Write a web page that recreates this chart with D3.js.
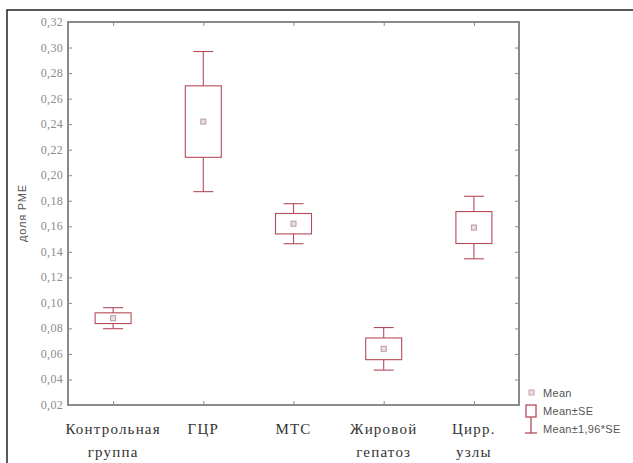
<!DOCTYPE html>
<html>
<head>
<meta charset="utf-8">
<script src="https://cdn.jsdelivr.net/npm/d3@7"></script>
<style>
  body { margin: 0; background: #fff; }
  svg { display: block; }
</style>
</head>
<body>
<svg width="633" height="463"></svg>
<script>
// groups and their values (mean, SE)
const groups = ["Контрольная|группа", "ГЦР", "МТС", "Жировой|гепатоз", "Цирр.|узлы"];
const means = [0.088, 0.242, 0.162, 0.064, 0.159];
const se = [0.0042, 0.028, 0.008, 0.0085, 0.0125];
const yTicks = [0.02, 0.04, 0.06, 0.08, 0.10, 0.12, 0.14, 0.16, 0.18, 0.20, 0.22, 0.24, 0.26, 0.28, 0.30, 0.32];
const legendLabels = ["Mean", "Mean±SE", "Mean±1,96*SE"];

const svg = d3.select("svg");
const red = "#b54a5a";
const axisCol = "#8a8a8a";

const m = { left: 68, top: 22, right: 519, bottom: 405 };

const x = d3.scalePoint().domain(groups).range([m.left, m.right]).padding(0.5);
const y = d3.scaleLinear().domain([0.02, 0.32]).range([m.bottom, m.top]);

// outer frame
svg.append("path")
  .attr("d", "M7,463 V10 H633")
  .attr("fill", "none")
  .attr("stroke", "#222")
  .attr("stroke-width", 1.5);

// plot frame
svg.append("rect")
  .attr("x", m.left).attr("y", m.top)
  .attr("width", m.right - m.left).attr("height", m.bottom - m.top)
  .attr("fill", "none").attr("stroke", axisCol).attr("stroke-width", 2);

const fmt = d => d3.format(".2f")(d).replace(".", ",");

// left axis with inward ticks
const yl = svg.append("g").attr("transform", `translate(${m.left},0)`)
  .call(d3.axisRight(y).tickValues(yTicks).tickSize(4).tickFormat(""));
yl.select(".domain").remove();
yl.selectAll("line").attr("stroke", axisCol);

svg.append("g").selectAll("text").data(yTicks).enter().append("text")
  .attr("x", m.left - 5).attr("y", d => y(d) + 4)
  .attr("text-anchor", "end")
  .attr("font-family", "Liberation Serif, serif")
  .attr("font-size", 12)
  .attr("letter-spacing", 0.3)
  .attr("fill", "#8c8c8c")
  .text(fmt);

// right axis ticks
const yr = svg.append("g").attr("transform", `translate(${m.right},0)`)
  .call(d3.axisLeft(y).tickValues(yTicks).tickSize(4).tickFormat(""));
yr.select(".domain").remove();
yr.selectAll("line").attr("stroke", axisCol);

// bottom and top ticks
const xb = svg.append("g").attr("transform", `translate(0,${m.bottom})`)
  .call(d3.axisTop(x).tickSize(4).tickFormat(""));
xb.select(".domain").remove();
xb.selectAll("line").attr("stroke", axisCol);
const xt = svg.append("g").attr("transform", `translate(0,${m.top})`)
  .call(d3.axisBottom(x).tickSize(4).tickFormat(""));
xt.select(".domain").remove();
xt.selectAll("line").attr("stroke", axisCol);

// category labels
groups.forEach(g => {
  const lines = g.split("|");
  const t = svg.append("text")
    .attr("x", x(g)).attr("y", 434)
    .attr("text-anchor", "middle")
    .attr("font-family", "Liberation Serif, serif")
    .attr("font-size", 15)
    .attr("letter-spacing", 1.2)
    .attr("fill", "#333");
  lines.forEach((l, i) => {
    t.append("tspan").attr("x", x(g)).attr("dy", i ? 23 : 0).text(l);
  });
});

// y axis title
svg.append("text")
  .attr("transform", "translate(26,213) rotate(-90)")
  .attr("text-anchor", "middle")
  .attr("font-family", "Liberation Sans, sans-serif")
  .attr("font-size", 11)
  .attr("letter-spacing", 0.8)
  .attr("fill", "#555")
  .text("доля РМЕ");

// boxes
const boxW = 36, capW = 20;
const items = svg.append("g").selectAll("g").data(groups).enter().append("g")
  .attr("transform", d => `translate(${x(d)},0)`);

items.append("line")
  .attr("y1", (d, i) => y(means[i] + 1.96 * se[i]))
  .attr("y2", (d, i) => y(means[i] - 1.96 * se[i]))
  .attr("stroke", red).attr("stroke-width", 1.1);

items.selectAll(".cap").data((d, i) => [means[i] + 1.96 * se[i], means[i] - 1.96 * se[i]])
  .enter().append("line").attr("class", "cap")
  .attr("x1", -capW / 2).attr("x2", capW / 2)
  .attr("y1", d => y(d)).attr("y2", d => y(d))
  .attr("stroke", red).attr("stroke-width", 1.1);

items.append("rect")
  .attr("x", -boxW / 2).attr("width", boxW)
  .attr("y", (d, i) => y(means[i] + se[i]))
  .attr("height", (d, i) => y(means[i] - se[i]) - y(means[i] + se[i]))
  .attr("fill", "#fff").attr("stroke", red).attr("stroke-width", 1.1);

items.append("rect")
  .attr("x", -2.5).attr("width", 5)
  .attr("y", (d, i) => y(means[i]) - 2.5).attr("height", 5)
  .attr("fill", "#eadfe1").attr("stroke", "#b89aa0").attr("stroke-width", 1);

// legend
const lg = svg.append("g").attr("transform", "translate(531,0)");
lg.append("rect").attr("x", -2).attr("y", 390).attr("width", 5).attr("height", 5)
  .attr("fill", "#eadfe1").attr("stroke", "#c8a0a8");
lg.append("rect").attr("x", -5).attr("y", 405).attr("width", 10).attr("height", 12)
  .attr("fill", "none").attr("stroke", red).attr("stroke-width", 1.3);
lg.append("line").attr("x1", 0).attr("x2", 0).attr("y1", 417).attr("y2", 433)
  .attr("stroke", red).attr("stroke-width", 1.3);
lg.append("line").attr("x1", -6).attr("x2", 6).attr("y1", 433).attr("y2", 433)
  .attr("stroke", red).attr("stroke-width", 1.3);
lg.selectAll(".lt").data(legendLabels).enter().append("text")
  .attr("x", 12).attr("y", (d, i) => 397 + i * 18)
  .attr("font-family", "Liberation Sans, sans-serif")
  .attr("font-size", 11)
  .attr("letter-spacing", 0.3)
  .attr("fill", "#555")
  .text(d => d);
</script>
</body>
</html>
